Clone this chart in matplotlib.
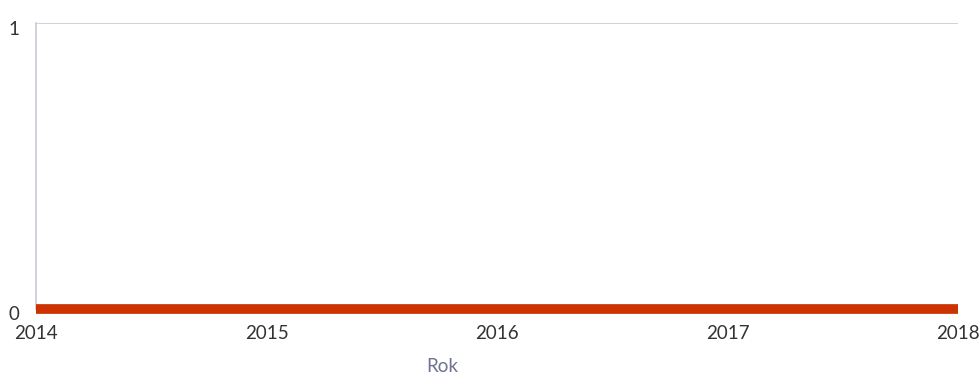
import matplotlib
matplotlib.use("Agg")
import matplotlib.pyplot as plt
from matplotlib.transforms import ScaledTranslation

years = [2014, 2015, 2016, 2017, 2018]
values = [0, 0, 0, 0, 0]
y_ticks = [0, 1]
x_label = "Rok"

plt.rcParams['font.family'] = ['Lato', 'DejaVu Sans']

fig = plt.figure(figsize=(9.8, 3.84), dpi=100)
ax = fig.add_axes([36 / 980, 75.5 / 384, 922 / 980, 285.5 / 384])

ax.plot(years, values, color='#cc3300', linewidth=7, solid_capstyle='butt', clip_on=False, zorder=3)

ax.set_xlim(2014, 2018)
ax.set_ylim(0, 1)
ax.set_xticks(years)
ax.set_yticks(y_ticks)
ax.set_yticklabels([str(v) for v in y_ticks])
ax.tick_params(axis='both', length=0, labelsize=13.5, colors='#333333')
ax.tick_params(axis='x', pad=12)
ax.tick_params(axis='y', pad=12)
shift = ScaledTranslation(0, -5 / 100, fig.dpi_scale_trans)
for lab in ax.get_yticklabels():
    lab.set_transform(lab.get_transform() + shift)

grid_c = '#c9c9d9'
ax.axhline(1, color=grid_c, linewidth=1.2, zorder=1)
for s in ['top', 'right', 'bottom']:
    ax.spines[s].set_visible(False)
ax.spines['left'].set_color(grid_c)
ax.spines['left'].set_linewidth(1.2)

fig.text(442 / 980, 1 - 367 / 384, x_label, ha='center', va='center', fontsize=13.5, color='#6f7291')

fig.savefig('out.png', dpi=100)
